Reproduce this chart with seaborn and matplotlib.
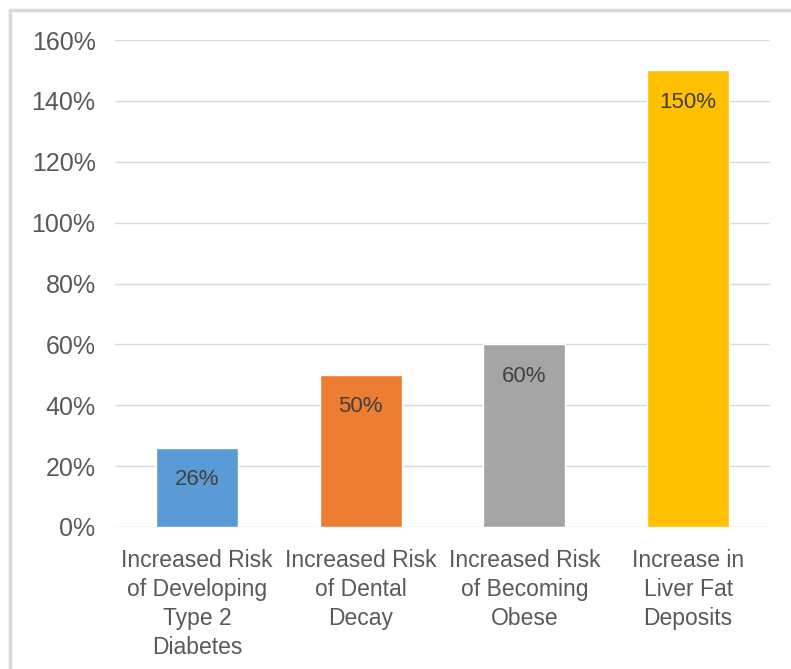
import matplotlib.pyplot as plt
import seaborn as sns
import pandas as pd
from matplotlib.patches import Rectangle
from matplotlib.ticker import PercentFormatter

# ============================
# Data
# ============================
categories = ['Increased Risk\nof Developing\nType 2\nDiabetes',
              'Increased Risk\nof Dental\nDecay',
              'Increased Risk\nof Becoming\nObese',
              'Increase in\nLiver Fat\nDeposits']
values = [26, 50, 60, 150]
bar_labels = ['26%', '50%', '60%', '150%']
colors = ['#5B9BD5', '#ED7D31', '#A5A5A5', '#FFC000']

df = pd.DataFrame({'category': categories, 'value': values})

sns.set_style('white')
plt.rcParams['font.family'] = ['Liberation Sans Narrow', 'Liberation Sans', 'DejaVu Sans']
text_color = '#595959'

fig = plt.figure(figsize=(7.91, 6.69), dpi=100)
ax = fig.add_axes([115 / 791, 1 - 527 / 669, 655 / 791, 487 / 669])

sns.barplot(data=df, x='category', y='value', hue='category', palette=colors,
            width=0.5, legend=False, ax=ax, saturation=1)

# value labels inside top of bars
for i, (v, lab) in enumerate(zip(values, bar_labels)):
    ax.text(i, v - 10.5, lab, ha='center', va='center', fontsize=16, color='#404040')

ax.set_ylim(0, 160)
ax.set_yticks(range(0, 161, 20))
ax.yaxis.set_major_formatter(PercentFormatter(decimals=0))
ax.set_xlim(-0.5, 3.5)
ax.grid(axis='y', color='#D9D9D9', linewidth=1)
ax.set_axisbelow(True)
for s in ax.spines.values():
    s.set_visible(False)
ax.set_xlabel('')
ax.set_ylabel('')
ax.tick_params(axis='both', length=0, colors=text_color)
ax.tick_params(axis='y', pad=14, labelsize=18)
ax.tick_params(axis='x', pad=16, labelsize=16.5)
for t in ax.get_xticklabels():
    t.set_linespacing(1.32)

# chart frame
fig.add_artist(Rectangle((10 / 791, -0.05), 1.0, 1 - 10 / 669 + 0.05,
                         transform=fig.transFigure, fill=False,
                         edgecolor='#D9D9D9', linewidth=2.5))

plt.savefig('out.png', dpi=100)
